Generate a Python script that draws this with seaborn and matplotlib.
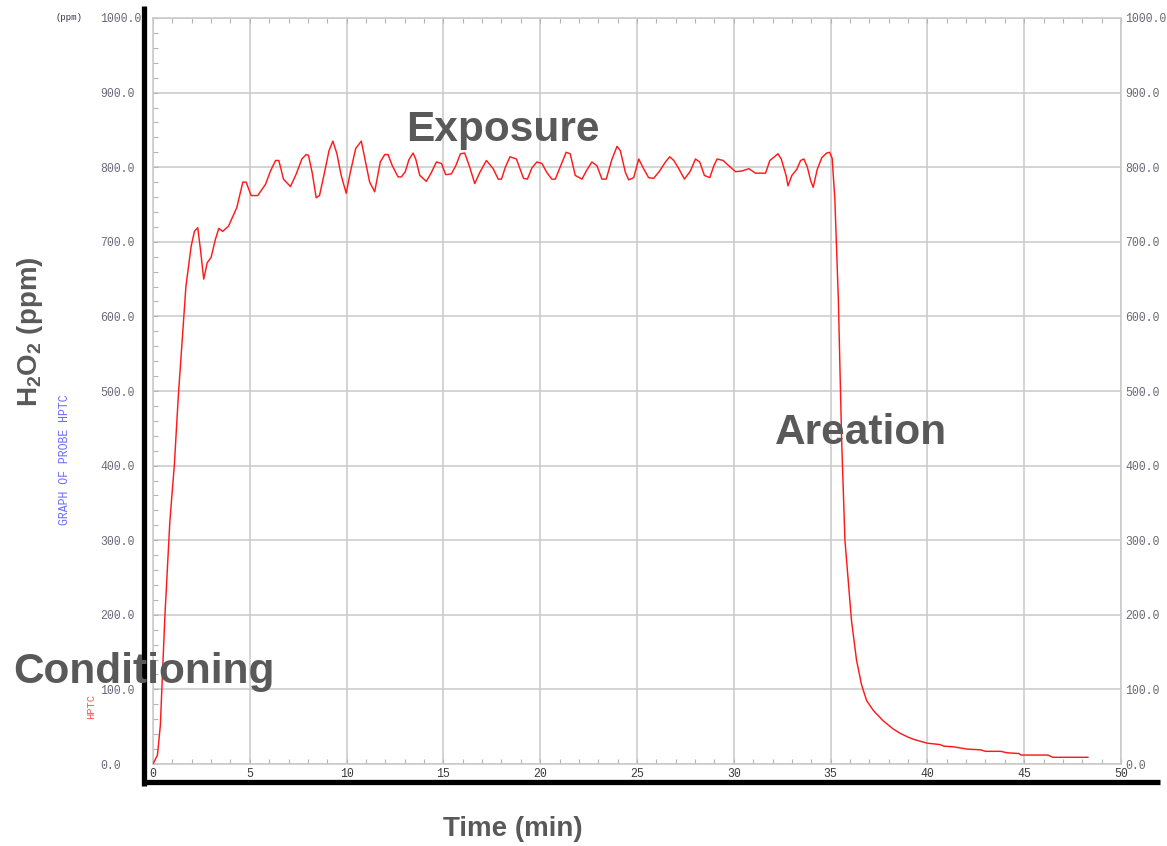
import numpy as np
import pandas as pd
import matplotlib
matplotlib.use("Agg")
import matplotlib.pyplot as plt
from matplotlib.lines import Line2D
from matplotlib.ticker import MultipleLocator, FormatStrFormatter
import seaborn as sns

# ---- data ----
time_min = [0.0, 0.23, 0.38, 0.61, 0.87, 1.1, 1.31, 1.48, 1.70, 1.97, 2.14, 2.31, 2.45, 2.62,
            2.8, 3.0, 3.22, 3.4, 3.6, 3.9, 4.33, 4.64, 4.81, 5.07, 5.41, 5.81, 6.07, 6.33,
            6.5, 6.74, 7.1, 7.4, 7.69, 7.91, 8.03, 8.22, 8.43, 8.6, 8.86, 9.09, 9.29, 9.5,
            9.72, 9.98, 10.19, 10.47, 10.76, 10.98, 11.19, 11.45, 11.74, 11.97, 12.14, 12.36,
            12.66, 12.83, 13.03, 13.22, 13.43, 13.57, 13.78, 14.12, 14.38, 14.64, 14.9, 15.12,
            15.41, 15.64, 15.88, 16.1, 16.36, 16.62, 16.88, 17.22, 17.57, 17.83, 18.0, 18.2,
            18.44, 18.77, 19.14, 19.34, 19.57, 19.83, 20.09, 20.34, 20.6, 20.78, 21.03, 21.34,
            21.55, 21.81, 22.16, 22.38, 22.67, 22.93, 23.19, 23.41, 23.71, 23.97, 24.14, 24.4,
            24.57, 24.83, 25.09, 25.34, 25.6, 25.86, 26.17, 26.47, 26.69, 26.9, 27.16, 27.45,
            27.76, 28.02, 28.24, 28.48, 28.76, 28.97, 29.14, 29.45, 29.74, 30.09, 30.43, 30.78,
            31.12, 31.64, 31.86, 32.1, 32.28, 32.45, 32.7, 32.8, 33.0, 33.25, 33.45, 33.62,
            33.8, 33.97, 34.1, 34.31, 34.55, 34.8, 34.95, 35.08, 35.22, 35.4, 35.57, 35.74,
            35.91, 36.08, 36.34, 36.6, 36.86, 37.2, 37.71, 38.23, 38.6, 39.0, 39.3, 39.97,
            40.66, 40.84, 41.36, 42.05, 42.74, 43.0, 43.78, 44.13, 44.74, 44.83, 46.22, 46.48,
            48.3]
h2o2_ppm = [0, 12, 52, 196, 325, 400, 494, 558, 640, 694, 714, 719, 690, 650,
            672, 679, 703, 718, 714, 721, 746, 780, 780, 762, 762, 777, 795, 809,
            809, 784, 774, 791, 811, 817, 816, 793, 759, 762, 793, 822, 835, 818,
            789, 765, 793, 825, 835, 807, 780, 767, 807, 817, 817, 802,
            787, 787, 794, 810, 819, 811, 789, 781, 793, 807, 805, 790,
            791, 802, 818, 819, 800, 778, 793, 809, 798, 784, 784, 800,
            814, 811, 785, 784, 799, 807, 805, 793, 784, 784, 800, 820,
            818, 789, 784, 795, 807, 802, 784, 784, 811, 828, 822, 793,
            783, 786, 811, 798, 786, 785, 795, 807, 814, 809, 798, 784,
            795, 811, 807, 789, 786, 802, 811, 809, 802, 794, 795, 798,
            792, 792, 809, 814, 818, 811, 789, 775, 789, 797, 809, 811,
            800, 782, 773, 797, 813, 819, 820, 812, 757, 623, 434, 300,
            246, 192, 139, 106, 85, 72, 58, 47, 41, 36, 33, 28,
            26, 24, 23, 20, 19, 17, 17, 15, 14, 12, 12, 9,
            9]
y_ticks = [0, 100, 200, 300, 400, 500, 600, 700, 800, 900, 1000]
x_ticks = [0, 5, 10, 15, 20, 25, 30, 35, 40, 45, 50]
phase_labels = ["Conditioning", "Exposure", "Areation"]

df = pd.DataFrame({"time": time_min, "ppm": h2o2_ppm})

sns.set_theme(style="white")
plt.rcParams["font.family"] = ["Liberation Sans", "DejaVu Sans"]
plt.rcParams["mathtext.fontset"] = "custom"
plt.rcParams["mathtext.rm"] = "Liberation Sans:bold"
plt.rcParams["mathtext.it"] = "Liberation Sans:bold"
plt.rcParams["mathtext.bf"] = "Liberation Sans:bold"
plt.rcParams["mathtext.default"] = "rm"

W, H = 1167, 846
fig = plt.figure(figsize=(W / 100, H / 100), dpi=100)
fig.patch.set_facecolor("white")

def fx(px):
    return px / W

def fy(py):
    return 1 - py / H

ax = fig.add_axes([fx(153), fy(764), fx(1121) - fx(153), fy(18) - fy(764)])
ax.set_facecolor("white")

sns.lineplot(data=df, x="time", y="ppm", ax=ax, color="#ff1a1a", linewidth=1.05,
             estimator=None, sort=False, zorder=3)

ax.set_xlim(0, 50)
ax.set_ylim(0, 1000)
ax.set_xlabel("")
ax.set_ylabel("")

grid_c = "#c9c9c9"
ax.set_xticks(x_ticks)
ax.set_yticks(y_ticks)
ax.xaxis.set_minor_locator(MultipleLocator(1))
ax.yaxis.set_minor_locator(MultipleLocator(20))
ax.yaxis.set_major_formatter(FormatStrFormatter("%.1f"))
ax.grid(True, which="major", color=grid_c, linewidth=1.1, zorder=0)
for s in ax.spines.values():
    s.set_color(grid_c)
    s.set_linewidth(1.1)

mono = "Liberation Mono"
tick_c = "#6c6878"
ax.tick_params(axis="both", which="both", direction="in", color="#b5b5b5",
               top=True, bottom=True, left=True, right=True)
ax.tick_params(axis="both", which="major", length=3.5, width=0.8)
ax.tick_params(axis="both", which="minor", length=3.5, width=0.8)
ax.tick_params(axis="x", labelsize=8.3, labelcolor="#3a3a3a", pad=3)
ax.tick_params(axis="y", labelsize=8.3, labelcolor=tick_c, pad=38)
for lab in ax.get_xticklabels():
    lab.set_fontfamily(mono)
for lab in ax.get_yticklabels():
    lab.set_fontfamily(mono)
    lab.set_horizontalalignment("left")

ax2 = ax.twinx()
ax2.set_ylim(0, 1000)
ax2.set_yticks(y_ticks)
ax2.yaxis.set_major_formatter(FormatStrFormatter("%.1f"))
ax2.tick_params(axis="y", length=0, labelsize=8.3, labelcolor=tick_c, pad=3)
for lab in ax2.get_yticklabels():
    lab.set_fontfamily(mono)
for s in ax2.spines.values():
    s.set_visible(False)
ax2.grid(False)

# thick black frame lines from the slide
fig.add_artist(Line2D([fx(144), fx(144)], [fy(6), fy(786)], color="black",
                      linewidth=3.8, solid_capstyle="butt"))
fig.add_artist(Line2D([fx(142), fx(1160)], [fy(781.5), fy(781.5)], color="black",
                      linewidth=3.8, solid_capstyle="butt"))

# small chart texts
fig.text(fx(55), fy(18), "(ppm)", fontsize=6.5, family=mono, color="#333344",
         ha="left", va="center")
fig.text(fx(65), fy(460), "GRAPH OF PROBE HPTC", fontsize=8.3, family=mono,
         color="#6a6aff", rotation=90, ha="center", va="center")
fig.text(fx(91), fy(706), "HPTC", fontsize=7.5, family=mono, color="#ff5050",
         rotation=90, ha="center", va="center")

# big annotations
gray = "#595959"
big = dict(fontsize=30.5, fontweight="bold", color=gray, family="Liberation Sans")
fig.text(fx(144), fy(683), phase_labels[0], ha="center", va="baseline", **big)
fig.text(fx(503), fy(141), phase_labels[1], ha="center", va="baseline", **big)
fig.text(fx(861), fy(444), phase_labels[2], ha="center", va="baseline", **big)

fig.text(fx(513), fy(836), "Time (min)", ha="center", va="baseline", fontsize=20,
         fontweight="bold", color=gray, family="Liberation Sans")
fig.text(fx(30), fy(332), r"H$_2$O$_2$ (ppm)", ha="center", va="center", rotation=90,
         fontsize=20, fontweight="bold", color=gray, family="Liberation Sans")

fig.savefig("out.png", dpi=100, facecolor="white")
